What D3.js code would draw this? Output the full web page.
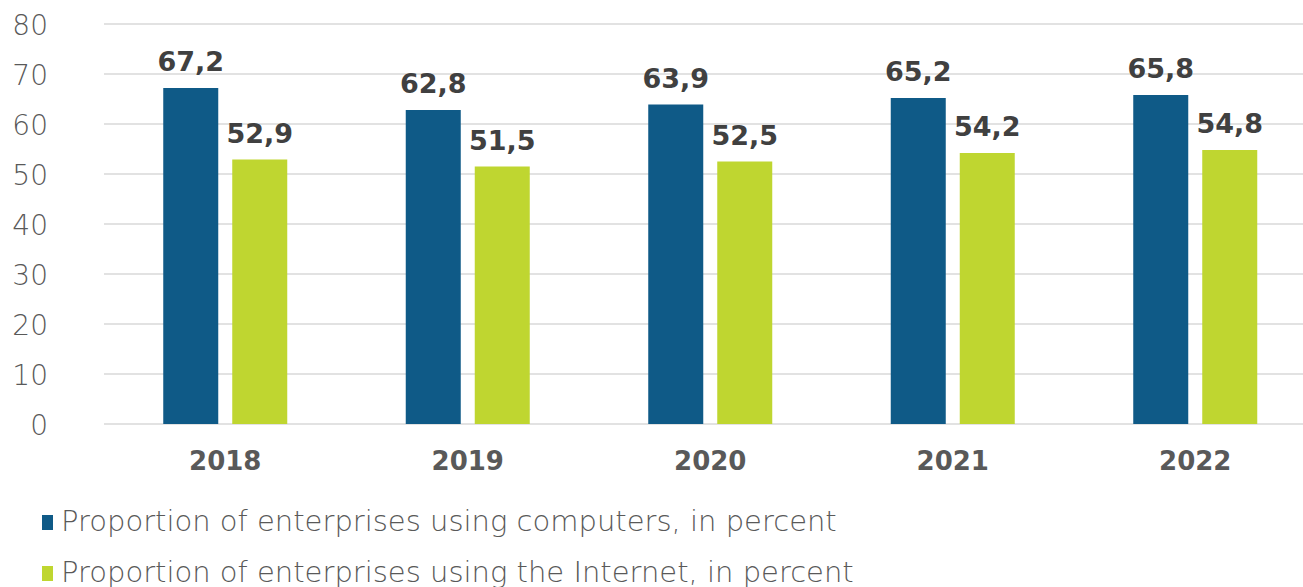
<!DOCTYPE html>
<html>
<head>
<meta charset="utf-8">
<script src="https://cdn.jsdelivr.net/npm/d3@7"></script>
<style>
  body { margin: 0; background: #fff; }
  svg { display: block; }
</style>
</head>
<body>
<div id="chart"></div>
<script>
const years = ["2018", "2019", "2020", "2021", "2022"];
const computers = [67.2, 62.8, 63.9, 65.2, 65.8];
const internet = [52.9, 51.5, 52.5, 54.2, 54.8];
const seriesNames = [
  "Proportion of enterprises using computers, in percent",
  "Proportion of enterprises using the Internet, in percent"
];
const seriesColors = ["#0f5a87", "#bfd630"];
const yTicks = [0, 10, 20, 30, 40, 50, 60, 70, 80];

let width = 1303;
let height = 587;
let font = "'DejaVu Sans', sans-serif";

let svg = d3.select("#chart").append("svg").attr("width", width).attr("height", height);

let x = d3.scaleBand().domain(years).range([104, 1316.5]);
let y = d3.scaleLinear().domain([0, 80]).range([424, 24]);

// gridlines
svg.append("g")
  .selectAll("line")
  .data(yTicks)
  .enter()
  .append("line")
  .attr("x1", 104)
  .attr("x2", width)
  .attr("y1", (d) => y(d))
  .attr("y2", (d) => y(d))
  .attr("stroke", "#d9d9d9")
  .attr("stroke-width", 1.5);

// y axis labels
let yAxis = d3.axisLeft(y).tickValues(yTicks).tickSize(0).tickPadding(0);
let yg = svg.append("g").attr("transform", "translate(48,0)").call(yAxis);
yg.select(".domain").remove();
yg.selectAll("text")
  .attr("fill", "#595959")
  .style("font-family", font)
  .style("font-weight", "200")
  .style("font-size", "28px")
  .attr("dy", "0.36em");

// bars
let series = [computers, internet];
let offsets = [-62, 7];
let barW = 55;
series.forEach((vals, si) => {
  let g = svg.append("g");
  g.selectAll("rect")
    .data(vals)
    .enter()
    .append("rect")
    .attr("x", (d, i) => x(years[i]) + x.bandwidth() / 2 + offsets[si])
    .attr("y", (d) => y(d))
    .attr("width", barW)
    .attr("height", (d) => y(0) - y(d))
    .attr("fill", seriesColors[si]);
  g.selectAll("text")
    .data(vals)
    .enter()
    .append("text")
    .attr("x", (d, i) => x(years[i]) + x.bandwidth() / 2 + offsets[si] + barW / 2)
    .attr("y", (d) => y(d) - 17)
    .attr("text-anchor", "middle")
    .attr("fill", "#404040")
    .style("font-family", font)
    .style("font-weight", "bold")
    .style("font-size", "27px")
    .text((d) => d.toFixed(1).replace(".", ","));
});

// x axis
let xAxis = d3.axisBottom(x).tickSize(0).tickPadding(0);
let xg = svg.append("g").attr("transform", "translate(0,424)").call(xAxis);
xg.select(".domain").remove();
xg.selectAll("text")
  .attr("fill", "#595959")
  .attr("dy", "0")
  .attr("y", 46)
  .style("font-family", font)
  .style("font-weight", "bold")
  .style("font-size", "26px");

// legend
let legend = svg.append("g");
seriesNames.forEach((name, i) => {
  let ly = 531 + i * 51;
  legend.append("rect")
    .attr("x", 42)
    .attr("y", ly - 16)
    .attr("width", 11)
    .attr("height", 15)
    .attr("fill", seriesColors[i]);
  legend.append("text")
    .attr("x", 61)
    .attr("y", ly)
    .attr("fill", "#595959")
    .style("font-family", font)
    .style("font-weight", "200")
    .style("font-size", "29px")
    .text(name);
});
</script>
</body>
</html>
